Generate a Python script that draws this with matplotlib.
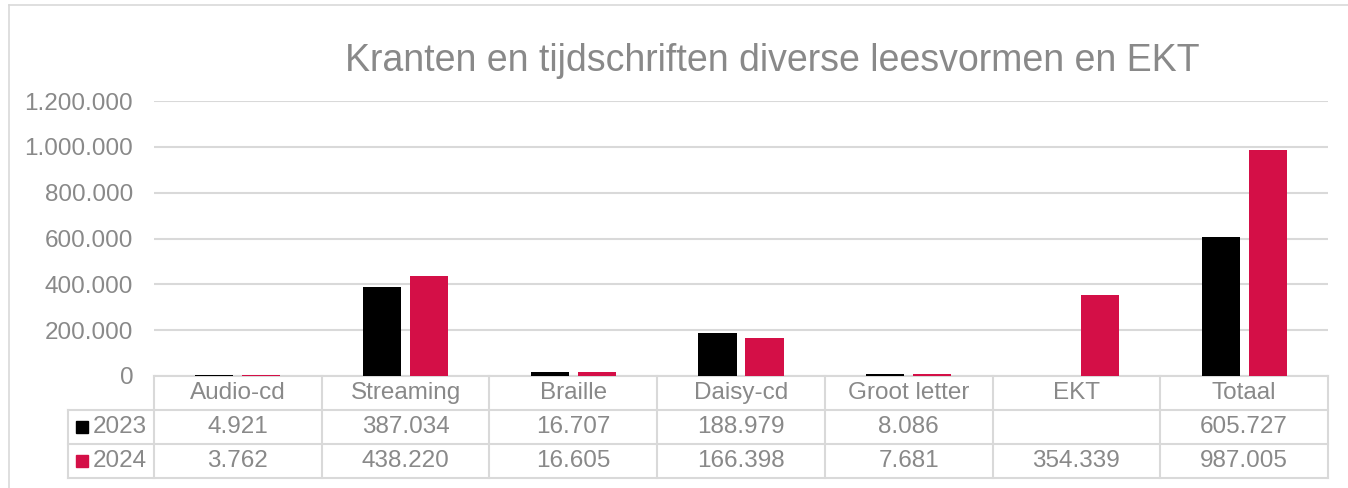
import matplotlib.pyplot as plt
from matplotlib.patches import Rectangle
from matplotlib.ticker import FuncFormatter

plt.rcParams["font.family"] = ["Liberation Sans", "DejaVu Sans"]

categories = ["Audio-cd", "Streaming", "Braille", "Daisy-cd", "Groot letter", "EKT", "Totaal"]
years = ["2023", "2024"]
values_2023 = [4921, 387034, 16707, 188979, 8086, None, 605727]
values_2024 = [3762, 438220, 16605, 166398, 7681, 354339, 987005]
title = "Kranten en tijdschriften diverse leesvormen en EKT"

grey_text = "#898989"
grid_col = "#D9D9D9"
colors = ["#000000", "#D40F47"]

W, H = 1348, 488
fig = plt.figure(figsize=(W / 100, H / 100), dpi=100)


def fx(px):
    return px / W


def fy(py):
    return 1 - py / H


# outer chart frame (top and left edge visible)
fig.add_artist(plt.Line2D([fx(9), 1], [fy(5), fy(5)], color=grid_col, lw=1.2))
fig.add_artist(plt.Line2D([fx(9), fx(9)], [fy(5), 0], color=grid_col, lw=1.2))

ax = fig.add_axes([fx(154), fy(376), fx(1328) - fx(154), fy(101) - fy(376)])
n = len(categories)
xs = list(range(n))
off = 0.14
bw = 0.227
series = [values_2023, values_2024]
for k, vals in enumerate(series):
    pos = [x + (off if k else -off) for x in xs]
    hv = [v if v is not None else 0 for v in vals]
    ax.bar(pos, hv, width=bw, color=colors[k], zorder=3)

ax.set_xlim(-0.5, n - 0.5)
ax.set_ylim(0, 1200000)
ax.set_yticks(range(0, 1200001, 200000))
ax.yaxis.set_major_formatter(FuncFormatter(lambda v, p: f"{int(v):,}".replace(",", ".")))
ax.tick_params(axis="y", length=0, labelsize=17.5, labelcolor=grey_text, pad=15)
ax.set_xticks([])
ax.grid(axis="y", color=grid_col, lw=1.5, zorder=0)
for s in ["top", "right", "left"]:
    ax.spines[s].set_visible(False)
ax.spines["bottom"].set_color(grid_col)
ax.spines["bottom"].set_linewidth(1.5)

fig.text(fx(772), fy(61), title, ha="center", va="center", fontsize=27, color=grey_text)

# data table below the plot
tax = fig.add_axes([fx(154), fy(478), fx(1328) - fx(154), fy(376) - fy(478)])
tax.set_xlim(-0.5, n - 0.5)
tax.set_ylim(0, 3)
tax.axis("off")
left = -0.5 - 86 / 167.7
lkw = dict(color=grid_col, lw=1.5, clip_on=False)
for b in range(n + 1):
    tax.plot([b - 0.5, b - 0.5], [0, 3], **lkw)
tax.plot([left, left], [0, 2], **lkw)
for yy in [0, 1, 2]:
    tax.plot([left, n - 0.5], [yy, yy], **lkw)

fs = 17.5
for i, c in enumerate(categories):
    tax.text(i, 2.5, c, ha="center", va="center", fontsize=fs, color=grey_text)
for k, vals in enumerate(series):
    yc = 1.5 - k
    for i, v in enumerate(vals):
        if v is not None:
            tax.text(i, yc, f"{v:,}".replace(",", "."), ha="center", va="center",
                     fontsize=fs, color=grey_text)
    sq = 12 / 167.7
    tax.add_patch(Rectangle((left + 8 / 167.7, yc - 0.18), sq, 0.36, color=colors[k],
                            clip_on=False))
    tax.text(left + 25 / 167.7, yc, years[k], ha="left", va="center", fontsize=fs,
             color=grey_text)

fig.savefig("out.png", dpi=100)
